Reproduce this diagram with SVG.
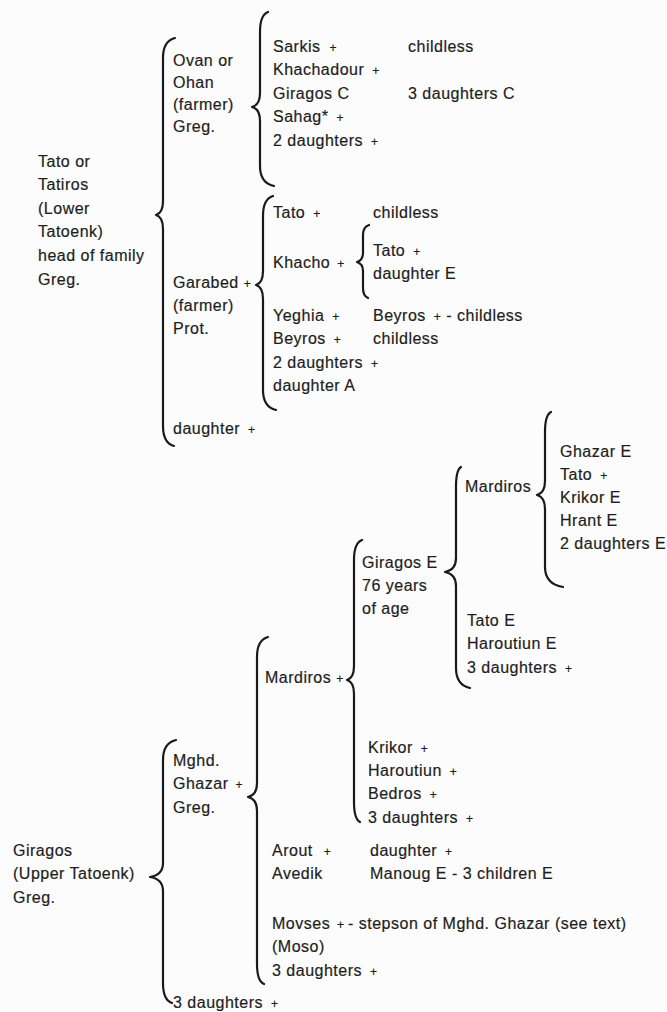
<svg xmlns="http://www.w3.org/2000/svg" width="667" height="1012" viewBox="0 0 667 1012">
  <style>
    text { font-family: "Liberation Sans", Arial, sans-serif; font-size: 16px; letter-spacing: 0.5px; fill: #1e1e1e; stroke: #1e1e1e; stroke-width: 0.2px; }
    .d { font-size: 12px; }
    .brace { fill: none; stroke: #1a1a1a; stroke-width: 2.2; stroke-linecap: round; stroke-linejoin: round; }
  </style>
  <rect width="667" height="1012" fill="#fcfcfc"/>

  <!-- braces joining each parent to its children -->
  <g id="connectors">
    <path class="brace" d="M175,38 Q163,41 163,58 L163,201 Q163,213 156,215 Q163,217 163,229 L163,426 Q163,443 174,446"/>
    <path class="brace" d="M268,12 Q260,15 260,32 L260,93 Q260,105 252,107 Q260,109 260,121 L260,166 Q260,183 274,186"/>
    <path class="brace" d="M273,196 Q263,199 263,216 L263,271 Q263,283 256,285 Q263,287 263,299 L263,390 Q263,407 276,410"/>
    <path class="brace" d="M369,225 Q363,227 363,235 L363,253 Q363,260 357,262 Q363,264 363,271 L363,288 Q363,296 368,298"/>
    <path class="brace" d="M551,412 Q545,415 545,432 L545,481 Q545,493 537,495 Q545,497 545,509 L545,567 Q545,584 563,587"/>
    <path class="brace" d="M461,467 Q456,470 456,487 L456,558 Q456,570 445,572 Q456,574 456,586 L456,668 Q456,685 470,688"/>
    <path class="brace" d="M362,540 Q354,543 354,560 L354,666 Q354,678 347,680 Q354,682 354,694 L354,802 Q354,819 360,822"/>
    <path class="brace" d="M268,637 Q257,640 257,657 L257,783 Q257,795 248,797 Q257,799 257,811 L257,964 Q257,981 264,984"/>
    <path class="brace" d="M176,740 Q163,743 163,760 L163,863 Q163,875 150,877 Q163,879 163,891 L163,983 Q163,1000 172,1003"/>
  </g>

  <!-- Lower Tatoenk family -->
  <g id="tato">
    <text x="38" y="166.5">Tato or<tspan x="38" dy="23.6">Tatiros</tspan><tspan x="38" dy="23.6">(Lower</tspan><tspan x="38" dy="23.6">Tatoenk)</tspan><tspan x="38" dy="23.6">head of family</tspan><tspan x="38" dy="23.6">Greg.</tspan></text>
  </g>
  <g id="ovan">
    <text x="173" y="65.5">Ovan or<tspan x="173" dy="22">Ohan</tspan><tspan x="173" dy="22">(farmer)</tspan><tspan x="173" dy="22">Greg.</tspan></text>
  </g>
  <g id="ovan-children">
    <text x="273" y="51.5">Sarkis <tspan class="d" dx="4">+</tspan></text>
    <text x="273" y="75">Khachadour <tspan class="d" dx="3">+</tspan></text>
    <text x="273" y="98.5">Giragos C</text>
    <text x="273" y="122">Sahag* <tspan class="d" dx="3">+</tspan></text>
    <text x="273" y="145.5">2 daughters <tspan class="d" dx="3">+</tspan></text>
    <text x="408" y="51.5">childless</text>
    <text x="408" y="98.5">3 daughters C</text>
  </g>
  <g id="garabed">
    <text x="173" y="287.5">Garabed <tspan class="d" dx="0">+</tspan><tspan x="173" dy="23">(farmer)</tspan><tspan x="173" dy="23">Prot.</tspan></text>
  </g>
  <g id="garabed-children">
    <text x="273" y="217.5">Tato <tspan class="d" dx="3">+</tspan></text>
    <text x="373" y="217.5">childless</text>
    <text x="273" y="267.5">Khacho <tspan class="d" dx="2">+</tspan></text>
    <text x="373" y="255.5">Tato <tspan class="d" dx="3">+</tspan></text>
    <text x="373" y="278.5">daughter E</text>
    <text x="273" y="320.5">Yeghia <tspan class="d" dx="3">+</tspan></text>
    <text x="273" y="343.5">Beyros <tspan class="d" dx="3">+</tspan></text>
    <text x="273" y="367.5">2 daughters <tspan class="d" dx="3">+</tspan></text>
    <text x="273" y="390.5">daughter A</text>
    <text x="373" y="320.5">Beyros <tspan class="d" dx="3">+</tspan> - childless</text>
    <text x="373" y="343.5">childless</text>
  </g>
  <g id="tato-daughter">
    <text x="173" y="433.5">daughter <tspan class="d" dx="3">+</tspan></text>
  </g>

  <!-- Upper Tatoenk family -->
  <g id="giragos">
    <text x="13" y="855.5">Giragos<tspan x="13" dy="23.5">(Upper Tatoenk)</tspan><tspan x="13" dy="23.5">Greg.</tspan></text>
  </g>
  <g id="mghd-ghazar">
    <text x="173" y="765.5">Mghd.<tspan x="173" dy="23.5">Ghazar <tspan class="d" dx="2">+</tspan></tspan><tspan x="173" dy="23.5">Greg.</tspan></text>
  </g>
  <g id="mardiros-elder">
    <text x="265" y="682.5">Mardiros <tspan class="d" dx="0">+</tspan></text>
  </g>
  <g id="giragos-e">
    <text x="362" y="567.5">Giragos E<tspan x="362" dy="23">76 years</tspan><tspan x="362" dy="23">of age</tspan></text>
  </g>
  <g id="mardiros-younger">
    <text x="465" y="491.5">Mardiros</text>
  </g>
  <g id="mardiros-children">
    <text x="560" y="456.5">Ghazar E<tspan x="560" dy="23">Tato <tspan class="d" dx="3">+</tspan></tspan><tspan x="560" dy="23">Krikor E</tspan><tspan x="560" dy="23">Hrant E</tspan><tspan x="560" dy="23">2 daughters E</tspan></text>
  </g>
  <g id="giragos-e-children">
    <text x="467" y="625.5">Tato E<tspan x="467" dy="23.5">Haroutiun E</tspan><tspan x="467" dy="23.5">3 daughters <tspan class="d" dx="3">+</tspan></tspan></text>
  </g>
  <g id="mardiros-elder-children">
    <text x="368" y="752.5">Krikor <tspan class="d" dx="3">+</tspan></text>
    <text x="368" y="775.5">Haroutiun <tspan class="d" dx="3">+</tspan></text>
    <text x="368" y="798.5">Bedros <tspan class="d" dx="3">+</tspan></text>
    <text x="368" y="822.5">3 daughters <tspan class="d" dx="3">+</tspan></text>
  </g>
  <g id="mghd-children">
    <text x="272" y="855.5">Arout <tspan class="d" dx="6">+</tspan></text>
    <text x="272" y="878.5">Avedik</text>
    <text x="370" y="855.5">daughter <tspan class="d" dx="3">+</tspan></text>
    <text x="370" y="878.5">Manoug E - 3 children E</text>
    <text x="272" y="928.5">Movses<tspan class="d" x="337">+</tspan><tspan x="348">- stepson of Mghd. Ghazar (see text)</tspan></text>
    <text x="272" y="952">(Moso)</text>
    <text x="272" y="975.5">3 daughters <tspan class="d" dx="3">+</tspan></text>
  </g>
  <g id="giragos-daughters">
    <text x="173" y="1007.5">3 daughters <tspan class="d" dx="3">+</tspan></text>
  </g>
</svg>
